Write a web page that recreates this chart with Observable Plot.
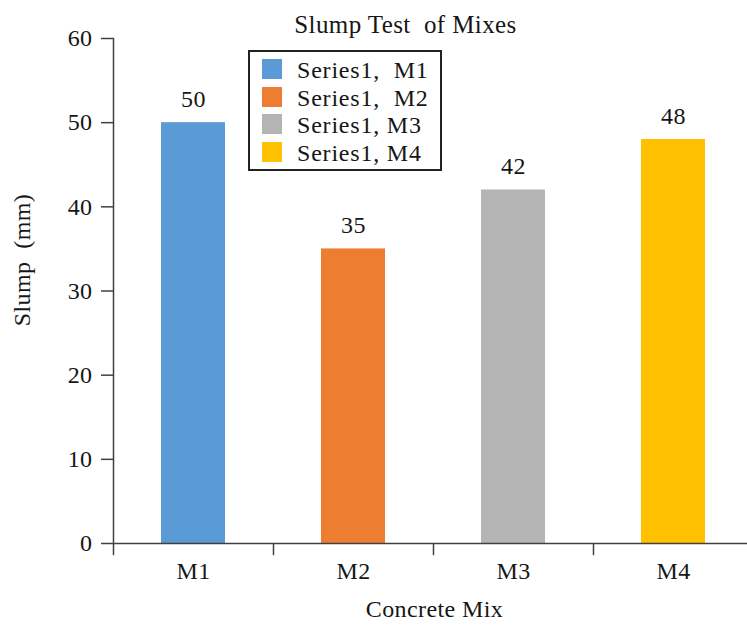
<!DOCTYPE html>
<html>
<head>
<meta charset="utf-8">
<script src="https://cdn.jsdelivr.net/npm/d3@7"></script>
<script src="https://cdn.jsdelivr.net/npm/@observablehq/plot@0.6"></script>
<style>
  html, body { margin: 0; padding: 0; background: #fff; }
  #wrap { position: relative; width: 747px; height: 626px; }
  #wrap svg text { white-space: pre; letter-spacing: 0.4px; font-family: "Liberation Serif", "Times New Roman", "DejaVu Serif", serif; }
  #wrap svg text.ttl { letter-spacing: 1.2px; }
  #wrap svg text.ylab { letter-spacing: 1.0px; }
  .legend { position: absolute; left: 248px; top: 50px; width: 190px; height: 117px;
            border: 2.8px solid #222; background: #fff; box-sizing: content-box; }
  .legend .row { position: absolute; left: 0; height: 24px; line-height: 24px;
            font-family: "Liberation Serif", "Times New Roman", "DejaVu Serif", serif; font-size: 24px; letter-spacing: 0.8px;
            color: #161616; white-space: pre; }
  .legend .sw { position: absolute; left: 12px; top: 0; width: 20px; height: 20px; }
  .legend .tx { position: absolute; left: 47px; top: -1px; }
</style>
</head>
<body>
<div id="wrap"></div>
<script>
const categories = ["M1", "M2", "M3", "M4"];
const slump = [50, 35, 42, 48];
const colors = ["#5B9BD5", "#ED7D31", "#B4B4B4", "#FFC000"];
const legendLabels = ["Series1,  M1", "Series1,  M2", "Series1, M3", "Series1, M4"];
const yTicks = [0, 10, 20, 30, 40, 50, 60];
const title = "Slump Test  of Mixes";
const xLabel = "Concrete Mix";
const yLabel = "Slump  (mm)";

const data = categories.map((c, i) => ({mix: c, slump: slump[i]}));
const ink = "#161616";
const axisInk = "#404040";

const chart = Plot.plot({
  width: 747,
  height: 626,
  marginLeft: 113,
  marginRight: 0,
  marginTop: 38,
  marginBottom: 83,
  style: {fontFamily: '"Liberation Serif", "Times New Roman", serif', fontSize: "24px", background: "#fff", color: ink, overflow: "visible"},
  x: {domain: categories, range: [113, 753], paddingInner: 0.6, paddingOuter: 0.3, axis: null},
  y: {domain: [0, 60], range: [543, 38], axis: null},
  color: {domain: categories, range: colors},
  marks: [
    Plot.barY(data, {x: "mix", y: "slump", fill: "mix"}),
    Plot.axisY({ticks: yTicks, tickSize: 12, tickPadding: 9, stroke: axisInk, strokeWidth: 1.5, fill: ink, fontSize: 24, label: null}),
    Plot.frame({anchor: "left", stroke: axisInk, strokeWidth: 1.5}),
    Plot.ruleY([0], {stroke: axisInk, strokeWidth: 1.5}),
    Plot.ruleX(categories, {x: d => d, dx: -80, y1: d => 0, y2: d => -1.45, stroke: axisInk, strokeWidth: 1.5}),
    Plot.text(data, {x: "mix", y: d => 0, text: "mix", dy: 35, lineAnchor: "bottom", fill: ink, fontSize: 24}),
    Plot.text(data, {x: "mix", y: "slump", text: d => String(d.slump), dy: -16, lineAnchor: "bottom", fill: ink, fontSize: 24}),
    Plot.text([xLabel], {frameAnchor: "bottom", text: d => d, textAnchor: "middle", dy: 73, dx: 4, lineAnchor: "bottom", fill: ink, fontSize: 24}),
    Plot.text([title], {frameAnchor: "top", text: d => d, textAnchor: "middle", dy: -6, dx: -25, lineAnchor: "bottom", fill: ink, fontSize: 25, className: "ttl"}),
    Plot.text([yLabel], {frameAnchor: "left", text: d => d, textAnchor: "middle", rotate: -90, dx: -91, dy: -31, fill: ink, fontSize: 24, className: "ylab"})
  ]
});

const wrap = document.getElementById("wrap");
wrap.appendChild(chart);

const legend = document.createElement("div");
legend.className = "legend";
const rowTops = [10, 38, 65, 93];
legendLabels.forEach((lab, i) => {
  const row = document.createElement("div");
  row.className = "row";
  row.style.top = rowTops[i] - 2.8 + "px";
  const sw = document.createElement("div");
  sw.className = "sw";
  sw.style.background = colors[i];
  const tx = document.createElement("div");
  tx.className = "tx";
  tx.textContent = lab;
  row.appendChild(sw);
  row.appendChild(tx);
  legend.appendChild(row);
});
wrap.appendChild(legend);
</script>
</body>
</html>
